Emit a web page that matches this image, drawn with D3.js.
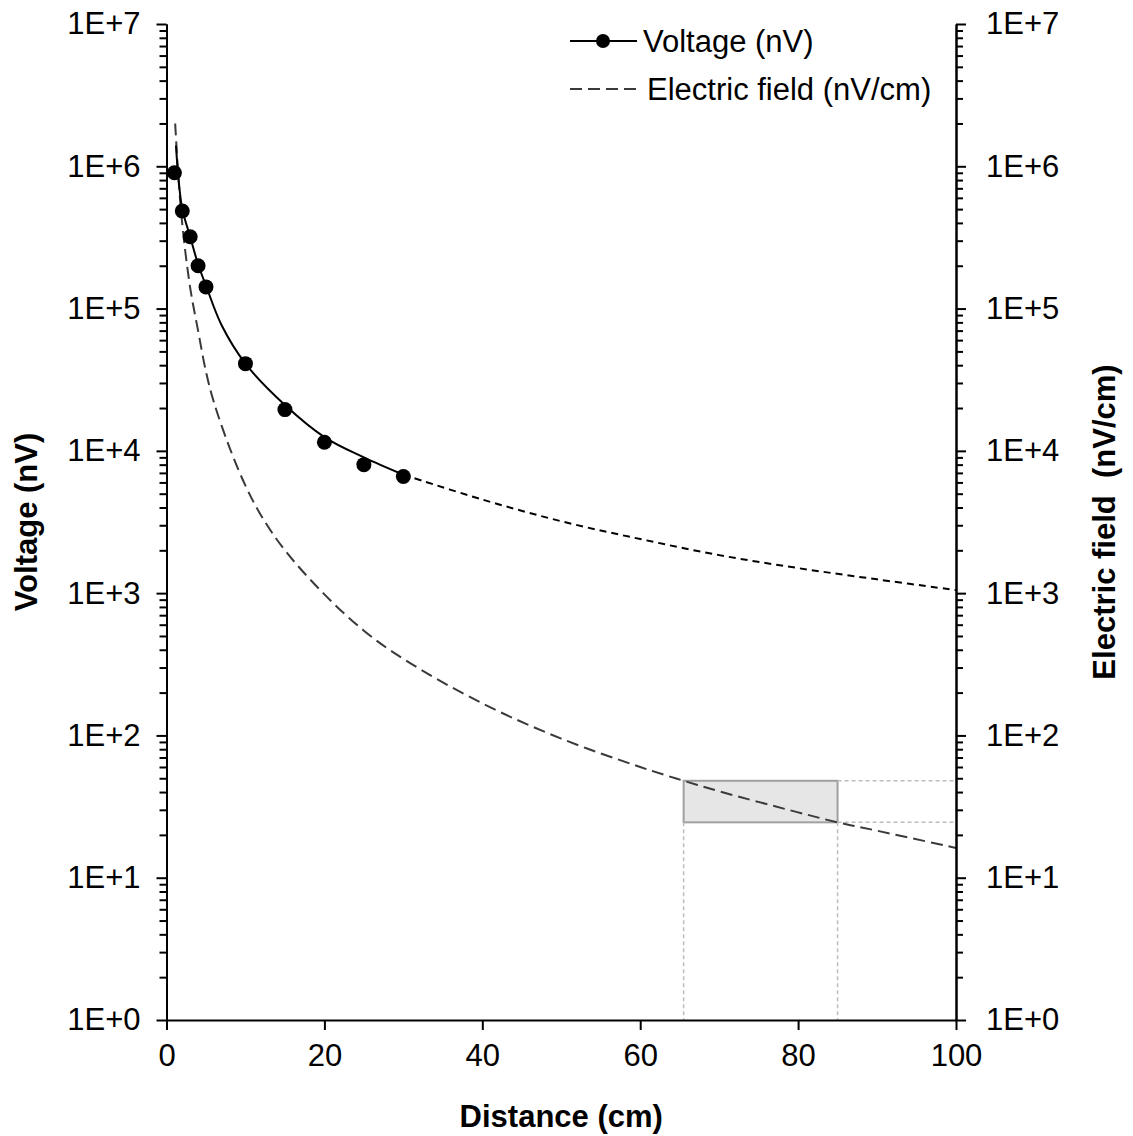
<!DOCTYPE html>
<html>
<head>
<meta charset="utf-8">
<script src="https://cdn.jsdelivr.net/npm/d3@7"></script>
<style>
  html, body { margin: 0; padding: 0; background: #fff; }
  svg { display: block; }
  text { font-family: "Liberation Sans", Arial, sans-serif; fill: #000; }
</style>
</head>
<body>
<svg id="chart" width="1133" height="1136"></svg>
<script>
// ---- data ----
const measuredDistance = [1, 2, 3, 4, 5, 10, 15, 20, 25, 30];
const measuredVoltage  = [9.0e5, 4.85e5, 3.2e5, 2.0e5, 1.42e5, 4.1e4, 1.95e4, 1.15e4, 8.0e3, 6.6e3];

const fitDistance = [1.2, 1.5, 2, 3, 4, 5, 7, 10, 15, 20, 25, 30];
const fitVoltage  = [1.4e6, 8.4e5, 5.0e5, 3.2e5, 2.05e5, 1.45e5, 7.6e4, 4.1e4, 2.1e4, 1.25e4, 9.0e3, 6.8e3];

const extDistance = [30, 40, 50, 60, 70, 80, 90, 100];
const extVoltage  = [6800, 4550, 3200, 2400, 1850, 1500, 1250, 1050];

const fieldDistance = [1.1, 1.5, 2, 3, 4, 5, 6, 8, 10, 12, 15, 20, 25, 30, 40, 50, 60, 65.5, 70, 80, 85, 90, 100];
const fieldValue    = [2.0e6, 8.5e5, 3.9e5, 1.4e5, 7.0e4, 3.6e4, 2.2e4, 1.05e4, 5700, 3500, 2000, 980, 545, 345, 168, 95, 60, 48, 40.5, 28.8, 24.5, 21.4, 16.2];

const boxDistance = [65.5, 85];
const boxField    = [24.5, 48];

const xTicks = [0, 20, 40, 60, 80, 100];
const yMajorTicks = [1, 1e1, 1e2, 1e3, 1e4, 1e5, 1e6, 1e7];
const yTickLabels = ["1E+0", "1E+1", "1E+2", "1E+3", "1E+4", "1E+5", "1E+6", "1E+7"];

const seriesNames = ["Voltage (nV)", "Electric field (nV/cm)"];
const xTitle = "Distance (cm)";
const yTitleLeft = "Voltage (nV)";
const yTitleRight = "Electric field  (nV/cm)";

// ---- layout ----
const svg = d3.select("#chart");
const plotLeft = 166.5, plotRight = 956, plotTop = 24, plotBottom = 1020;
const x = d3.scaleLinear().domain([0, 100]).range([plotLeft, plotRight]);
const y = d3.scaleLog().domain([1, 1e7]).range([plotBottom, plotTop]);

const yMinorTicks = [];
for (let k = 0; k < 7; k++) for (let m = 2; m <= 9; m++) yMinorTicks.push(m * Math.pow(10, k));
const labelFor = v => yTickLabels[yMajorTicks.indexOf(v)];

const fontSize = 31;

// grey box & guide lines
const g = svg.append("g");
g.append("rect")
  .attr("x", x(boxDistance[0])).attr("y", y(boxField[1]))
  .attr("width", x(boxDistance[1]) - x(boxDistance[0]))
  .attr("height", y(boxField[0]) - y(boxField[1]))
  .attr("fill", "#e6e6e6").attr("stroke", "#a0a0a0").attr("stroke-width", 2);
const guides = [
  [boxDistance[0], boxField[0], boxDistance[0], 1],
  [boxDistance[1], boxField[0], boxDistance[1], 1],
  [boxDistance[1], boxField[1], 100, boxField[1]],
  [boxDistance[1], boxField[0], 100, boxField[0]]
];
g.selectAll("line.guide").data(guides).enter().append("line")
  .attr("class", "guide")
  .attr("x1", d => x(d[0])).attr("y1", d => y(d[1]))
  .attr("x2", d => x(d[2])).attr("y2", d => y(d[3]))
  .attr("stroke", "#bdbdbd").attr("stroke-width", 1.5).attr("stroke-dasharray", "4,3");

// curves
const line = d3.line().x(d => x(d[0])).y(d => y(d[1])).curve(d3.curveCatmullRom.alpha(0.5));
const zip = (a, b) => a.map((v, i) => [v, b[i]]);

g.append("path").datum(zip(fieldDistance, fieldValue))
  .attr("d", line).attr("fill", "none").attr("stroke", "#3a3a3a")
  .attr("stroke-width", 2).attr("stroke-dasharray", "12,6");

g.append("path").datum(zip(extDistance, extVoltage))
  .attr("d", line).attr("fill", "none").attr("stroke", "#000")
  .attr("stroke-width", 2).attr("stroke-dasharray", "7,5");

g.append("path").datum(zip(fitDistance, fitVoltage))
  .attr("d", line).attr("fill", "none").attr("stroke", "#000")
  .attr("stroke-width", 2);

g.selectAll("circle.pt").data(zip(measuredDistance, measuredVoltage)).enter().append("circle")
  .attr("class", "pt")
  .attr("cx", d => x(d[0])).attr("cy", d => y(d[1])).attr("r", 7.5)
  .attr("fill", "#000");

// axes
function styleAxis(sel) {
  sel.selectAll("path.domain").attr("stroke", "#000").attr("stroke-width", 2);
  sel.selectAll(".tick line").attr("stroke", "#000").attr("stroke-width", 2);
  sel.selectAll(".tick text").attr("font-size", fontSize)
    .attr("font-family", "'Liberation Sans', Arial, sans-serif").attr("fill", "#000");
}

const leftMinor = svg.append("g").attr("transform", `translate(${plotLeft},0)`)
  .call(d3.axisLeft(y).tickValues(yMinorTicks).tickSize(7).tickSizeOuter(0).tickFormat(""));
styleAxis(leftMinor);
const leftMajor = svg.append("g").attr("transform", `translate(${plotLeft},0)`)
  .call(d3.axisLeft(y).tickValues(yMajorTicks).tickSize(10).tickSizeOuter(0).tickPadding(16).tickFormat(labelFor));
styleAxis(leftMajor);

const rightMinor = svg.append("g").attr("transform", `translate(${plotRight},0)`)
  .call(d3.axisRight(y).tickValues(yMinorTicks).tickSize(7).tickSizeOuter(0).tickFormat(""));
styleAxis(rightMinor);
const rightMajor = svg.append("g").attr("transform", `translate(${plotRight},0)`)
  .call(d3.axisRight(y).tickValues(yMajorTicks).tickSize(10).tickSizeOuter(0).tickPadding(20).tickFormat(labelFor));
styleAxis(rightMajor);

const bottomAxis = svg.append("g").attr("transform", `translate(0,${plotBottom})`)
  .call(d3.axisBottom(x).tickValues(xTicks).tickSize(10).tickSizeOuter(0).tickPadding(14).tickFormat(d3.format("d")));
styleAxis(bottomAxis);

// axis titles
svg.append("text").attr("x", (plotLeft + plotRight) / 2).attr("y", 1127)
  .attr("text-anchor", "middle").attr("font-size", fontSize).attr("font-weight", "bold")
  .text(xTitle);
svg.append("text").attr("transform", `translate(37,${(plotTop + plotBottom) / 2}) rotate(-90)`)
  .attr("text-anchor", "middle").attr("font-size", fontSize).attr("font-weight", "bold")
  .text(yTitleLeft);
svg.append("text").attr("transform", `translate(1115,${(plotTop + plotBottom) / 2}) rotate(-90)`)
  .attr("text-anchor", "middle").attr("font-size", fontSize).attr("font-weight", "bold")
  .style("white-space", "pre")
  .text(yTitleRight);

// legend
const lg = svg.append("g");
const ly1 = 41, ly2 = 89;
lg.append("line").attr("x1", 570).attr("x2", 637).attr("y1", ly1).attr("y2", ly1)
  .attr("stroke", "#000").attr("stroke-width", 2);
lg.append("circle").attr("cx", 603).attr("cy", ly1).attr("r", 7).attr("fill", "#000");
lg.append("text").attr("x", 643).attr("y", ly1).attr("dy", "0.36em")
  .attr("font-size", fontSize).text(seriesNames[0]);
lg.append("line").attr("x1", 570).attr("x2", 640).attr("y1", ly2).attr("y2", ly2)
  .attr("stroke", "#3a3a3a").attr("stroke-width", 2).attr("stroke-dasharray", "12,6");
lg.append("text").attr("x", 647).attr("y", ly2).attr("dy", "0.36em")
  .attr("font-size", fontSize).text(seriesNames[1]);
</script>
</body>
</html>
